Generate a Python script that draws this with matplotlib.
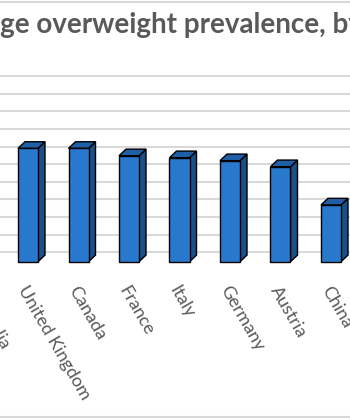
import matplotlib
matplotlib.use("Agg")
import matplotlib.pyplot as plt
from matplotlib.patches import Polygon

# data (front face height, % of adults)
countries = ["Australia", "United Kingdom", "Canada", "France", "Italy",
             "Germany", "Austria", "China"]
values = [65.0, 64.3, 64.3, 60.1, 59.0, 57.3, 53.9, 32.2]
grid_values = list(range(0, 110, 10))
title = "Average overweight prevalence, by country"

front_col = "#2878cd"
side_col = "#1b4f87"
top_col = "#1f5fa6"
text_col = "#595959"
grid_col = "#d9d9d9"

W, H, DPI = 350, 420, 100
fig = plt.figure(figsize=(W / DPI, H / DPI), dpi=DPI)
ax = fig.add_axes([0, 0, 1, 1])

# pixel layout of the original crop
px_per_bar = 50.5
px_per_unit = 1.763
x0 = 1 - 28 / px_per_bar
y_top = 252.3 / px_per_unit
ax.set_xlim(x0, x0 + W / px_per_bar)
ax.set_ylim(y_top - H / px_per_unit, y_top)
ax.axis("off")

for g in grid_values:
    ax.axhline(g, color=grid_col, lw=1.5, zorder=0)

# 3d column look: front face + side + top
w = 20 / px_per_bar
dx = 7 / px_per_bar
dy = 6.6 / px_per_unit
base = -9.4 / px_per_unit
ax.bar(range(len(values)), values, width=w, bottom=base, color=front_col,
       edgecolor="black", linewidth=1, zorder=3)
for i, v in enumerate(values):
    r = i + w / 2
    l = i - w / 2
    t = base + v
    ax.add_patch(Polygon([(r, base), (r + dx, base + dy), (r + dx, t + dy), (r, t)],
                         closed=True, facecolor=side_col, edgecolor="black", lw=1, zorder=2))
    ax.add_patch(Polygon([(l, t), (l + dx, t + dy), (r + dx, t + dy), (r, t)],
                         closed=True, facecolor=top_col, edgecolor="black", lw=1, zorder=2))
    ax.text(i + 0.02, (252.3 - 283) / px_per_unit, countries[i], rotation=-60,
            rotation_mode="anchor", ha="left", va="top", fontsize=13,
            family="Lato", color=text_col)

# title, cropped on both sides like the original
renderer = fig.canvas.get_renderer()
probe = fig.text(0, 0, "Avera", fontsize=20, family="Lato", weight="bold")
shift = probe.get_window_extent(renderer).width
probe.remove()
fig.text(-shift / W, 1 - 33 / H, title, fontsize=20, family="Lato", weight="bold",
         color=text_col, ha="left", va="baseline")

# chart area border (top and bottom edges visible)
fig.add_artist(plt.Line2D([0, 1], [1 - 1.5 / H, 1 - 1.5 / H], color=grid_col, lw=1.5))
fig.add_artist(plt.Line2D([0, 1], [3 / H, 3 / H], color=grid_col, lw=1.5))

fig.savefig("out.png", dpi=DPI)
